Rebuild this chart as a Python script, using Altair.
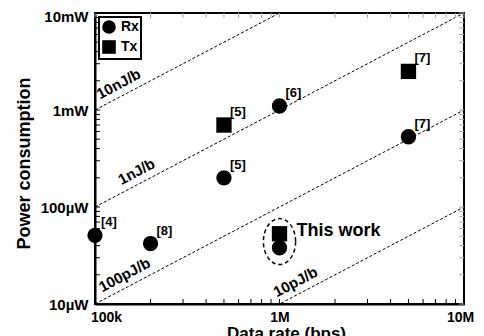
import altair as alt
import pandas as pd

# ---- data (rate in bps, power in µW) ----
rx_rate = [1e5, 2e5, 5e5, 1e6, 5e6, 1e6]
rx_power = [51, 42, 200, 1100, 530, 38]
rx_ref = ["[4]", "[8]", "[5]", "[6]", "[7]", ""]

tx_rate = [5e5, 5e6, 1e6]
tx_power = [700, 2500, 53]
tx_ref = ["[5]", "[7]", ""]

energy_per_bit = [10e-9, 1e-9, 100e-12, 10e-12]          # J/b
energy_labels = ["10nJ/b", "1nJ/b", "100pJ/b", "10pJ/b"]
energy_label_rate = [1.44e5, 1.8e5, 1.55e5, 1.31e6]
line_rates = [1e5, 1e7]

this_work_rate = [1e6]
this_work_power = [53]
this_work_text = ["This work"]
ellipse_power = [44]

x_ticks = [1e5, 1e6, 1e7]
x_tick_labels = ["100k", "1M", "10M"]
y_ticks = [10, 100, 1000, 10000]
y_tick_labels = ["10µW", "100µW", "1mW", "10mW"]

x_minor = [m * d for d in [1e5, 1e6] for m in range(2, 10)]
y_minor = [m * d for d in [10, 100, 1000] for m in range(2, 10)]

W, H = 369, 291
FONT = "Liberation Sans"

# ---- tables ----
pts = pd.DataFrame({
    "rate": rx_rate + tx_rate,
    "power": rx_power + tx_power,
    "kind": ["Rx"] * len(rx_rate) + ["Tx"] * len(tx_rate),
    "ref": rx_ref + tx_ref,
})
lines = pd.DataFrame([
    {"label": lab, "rate": r, "power": e * r * 1e6}
    for e, lab in zip(energy_per_bit, energy_labels) for r in line_rates
])
line_lab = pd.DataFrame({
    "label": energy_labels,
    "rate": energy_label_rate,
    "power": [e * r * 1e6 for e, r in zip(energy_per_bit, energy_label_rate)],
})
tw = pd.DataFrame({"rate": this_work_rate, "power": this_work_power, "text": this_work_text})
ell = pd.DataFrame({"rate": this_work_rate, "power": ellipse_power})
xt = pd.DataFrame({"rate": x_ticks + x_minor})
yt = pd.DataFrame({"power": y_ticks + y_minor})

xs = alt.Scale(type="log", domain=[1e5, 1e7], nice=False)
ys = alt.Scale(type="log", domain=[10, 10000], nice=False)


def label_expr(vals, labs):
    s = "''"
    for v, l in zip(reversed(vals), reversed(labs)):
        s = f"datum.value == {v:g} ? '{l}' : ({s})"
    return s


x_axis = alt.Axis(
    values=x_ticks, labelExpr=label_expr(x_ticks, x_tick_labels), ticks=False, grid=False,
    domainColor="black", domainWidth=2, labelFont=FONT, labelFontSize=14, labelFontWeight="bold",
    labelColor="black", labelPadding=6, labelOverlap=False, labelBound=False, labelFlush=False,
    labelOffset={"condition": [{"test": "datum.value < 150000", "value": 11},
                               {"test": "datum.value > 5000000", "value": -4}],
                 "value": 0},
    title="Data rate (bps)", titleFont=FONT, titleFontSize=17, titleFontWeight="bold",
    titleColor="black", titleX=191, titleY=21, titleBaseline="top", titleAlign="center",
)
y_axis = alt.Axis(
    values=y_ticks, labelExpr=label_expr(y_ticks, y_tick_labels), ticks=False, grid=False,
    domainColor="black", domainWidth=2, labelFont=FONT, labelFontSize=15, labelFontWeight="bold",
    labelColor="black", labelPadding=7, labelOverlap=False, labelBound=False, labelFlush=False,
    labelOffset={"condition": {"test": "datum.value > 5000", "value": 3}, "value": 0},
    title="Power consumption", titleFont=FONT, titleFontSize=18, titleFontWeight="bold",
    titleColor="black", titleX=-71, titleY=150, titleAngle=270, titleBaseline="middle",
    titleAlign="center",
)

X = alt.X("rate:Q", scale=xs, axis=x_axis, title="Data rate (bps)")
Y = alt.Y("power:Q", scale=ys, axis=y_axis, title="Power consumption")

energy_lines = alt.Chart(lines).mark_line(
    color="black", strokeWidth=1, strokeDash=[3, 2], clip=True
).encode(x=X, y=Y, detail="label:N")

energy_text = alt.Chart(line_lab).mark_text(
    angle=332, align="center", baseline="middle", dy=-12, font=FONT, fontSize=15,
    fontWeight="bold", color="black"
).encode(x=X, y=Y, text="label:N")

points = alt.Chart(pts).mark_point(
    filled=True, color="black", opacity=1, size=235
).encode(
    x=X, y=Y,
    shape=alt.Shape("kind:N", scale=alt.Scale(domain=["Rx", "Tx"], range=["circle", "square"]),
                    legend=alt.Legend(title=None, orient="top-left", offset=4, strokeColor="black",
                                      fillColor="white", padding=2, symbolSize=185,
                                      symbolFillColor="black", symbolStrokeColor="black",
                                      labelFont=FONT, labelFontSize=14, labelFontWeight="bold",
                                      labelColor="black", rowPadding=0, labelOffset=4)),
)

ref_text = alt.Chart(pts).mark_text(
    align="left", baseline="middle", dx=6, dy=-13, font=FONT, fontSize=13,
    fontWeight="bold", color="black"
).encode(x=X, y=Y, text="ref:N")

tw_text = alt.Chart(tw).mark_text(
    align="left", baseline="middle", dx=17, dy=-3, font=FONT, fontSize=18,
    fontWeight="bold", color="black"
).encode(x=X, y=Y, text="text:N")

ellipse_path = ("M 0.7 0 C 0.7 0.5523 0.3866 1 0 1 C -0.3866 1 -0.7 0.5523 -0.7 0 "
                "C -0.7 -0.5523 -0.3866 -1 0 -1 C 0.3866 -1 0.7 -0.5523 0.7 0 Z")
ellipse = alt.Chart(ell).mark_point(
    shape=ellipse_path, size=2116, filled=False, color="black", strokeWidth=1.5,
    strokeDash=[4, 3], opacity=1
).encode(x=X, y=Y)

TL = 5
bottom_ticks = alt.Chart(xt).mark_rule(color="black", strokeWidth=1).encode(
    x=X, y=alt.value(H), y2=alt.value(H - TL))
top_ticks = alt.Chart(xt).mark_rule(color="#aaaaaa", strokeWidth=1).encode(
    x=X, y=alt.value(0), y2=alt.value(TL))
left_ticks = alt.Chart(yt).mark_rule(color="black", strokeWidth=1).encode(
    y=Y, x=alt.value(0), x2=alt.value(TL))
right_ticks = alt.Chart(yt).mark_rule(color="#aaaaaa", strokeWidth=1).encode(
    y=Y, x=alt.value(W), x2=alt.value(W - TL))

chart = alt.layer(
    energy_lines, bottom_ticks, top_ticks, left_ticks, right_ticks,
    energy_text, ellipse, points, ref_text, tw_text
).properties(
    width=W, height=H,
    autosize=alt.AutoSizeParams(type="none"),
    padding={"left": 87, "top": 5, "right": 12, "bottom": 32},
    background="white",
).configure_view(stroke="black", strokeWidth=2).configure_legend(strokeWidth=2)

chart.save("out.html", embed_options={"renderer": "svg", "actions": False})
